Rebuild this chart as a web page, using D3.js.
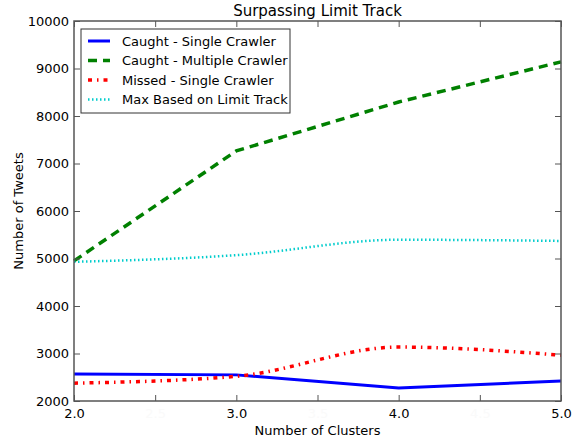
<!DOCTYPE html>
<html>
<head>
<meta charset="utf-8">
<script src="https://cdn.jsdelivr.net/npm/d3@7"></script>
<style>
  body { margin: 0; background: #fff; }
  svg { font-family: "DejaVu Sans", sans-serif; }
</style>
</head>
<body>
<div id="chart"></div>
<script>
// data
var clusters = [2, 3, 4, 5];
var caughtSingle = [2568, 2550, 2272, 2420];
var caughtMultiple = [4950, 7265, 8295, 9140];
var missedSingle = [2375, 2520, 3135, 2965];
var maxLimitTrack = [4930, 5070, 5395, 5370];
var seriesNames = ["Caught - Single Crawler", "Caught - Multiple Crawler",
                   "Missed - Single Crawler", "Max Based on Limit Track"];
var xTicks = [2.0, 2.5, 3.0, 3.5, 4.0, 4.5, 5.0];
var yTicks = [2000, 3000, 4000, 5000, 6000, 7000, 8000, 9000, 10000];

var margin = {top: 21, right: 14, bottom: 37, left: 74},
    width = 575 - margin.left - margin.right,
    height = 438 - margin.top - margin.bottom;

var x = d3.scaleLinear().domain([2, 5]).range([0, width]);
var y = d3.scaleLinear().domain([2000, 10000]).range([height, 0]);

var svg = d3.select("#chart").append("svg")
    .attr("width", 575)
    .attr("height", 438)
  .append("g")
    .attr("transform", `translate(${margin.left},${margin.top})`);

var series = [
  {name: seriesNames[0], values: caughtSingle, color: "#0000ff", width: 3, dash: null, curve: d3.curveLinear},
  {name: seriesNames[1], values: caughtMultiple, color: "#008000", width: 3.5, dash: "9,6", curve: d3.curveLinear},
  {name: seriesNames[2], values: missedSingle, color: "#ff0000", width: 3.5, dash: "4,5,1.5,5", curve: d3.curveMonotoneX},
  {name: seriesNames[3], values: maxLimitTrack, color: "#00cccc", width: 2.5, dash: "1.5,2.5", curve: d3.curveMonotoneX}
];

// lines
series.forEach(function(s) {
  var line = d3.line()
      .x(function(d, i) { return x(clusters[i]); })
      .y(function(d) { return y(d); })
      .curve(s.curve);
  svg.append("path")
      .datum(s.values)
      .attr("fill", "none")
      .attr("stroke", s.color)
      .attr("stroke-width", s.width)
      .attr("stroke-dasharray", s.dash)
      .attr("d", line);
});

// frame
svg.append("rect")
    .attr("width", width)
    .attr("height", height)
    .attr("fill", "none")
    .attr("stroke", "#555")
    .attr("stroke-width", 1.5);

// axes with inward ticks
var bottom = svg.append("g")
    .attr("transform", "translate(0," + height + ")")
    .call(d3.axisBottom(x).tickValues(xTicks).tickFormat(d3.format(".1f")).tickSize(-6).tickPadding(8));

svg.append("g")
    .call(d3.axisTop(x).tickValues(xTicks).tickFormat("").tickSize(-6));

svg.append("g")
    .call(d3.axisLeft(y).tickValues(yTicks).tickFormat(d3.format("d")).tickSize(-6).tickPadding(5));

svg.append("g")
    .attr("transform", "translate(" + width + ",0)")
    .call(d3.axisRight(y).tickValues(yTicks).tickFormat("").tickSize(-6));

svg.selectAll(".domain").remove();
svg.selectAll(".tick line").attr("stroke", "#555");
svg.selectAll(".tick text").style("font-size", "13px").style("font-family", "DejaVu Sans");
// half-step labels are barely visible in the original
bottom.selectAll(".tick text")
    .attr("fill", function(d) { return d % 1 === 0 ? "#000" : "#fafafa"; });

// axis labels
svg.append("text")
    .attr("x", width / 2)
    .attr("y", height + 34)
    .attr("text-anchor", "middle")
    .style("font-size", "13px")
    .text("Number of Clusters");

svg.append("text")
    .attr("transform", "rotate(-90)")
    .attr("x", -height / 2)
    .attr("y", -51)
    .attr("text-anchor", "middle")
    .style("font-size", "13px")
    .text("Number of Tweets");

// title
svg.append("text")
    .attr("x", width / 2)
    .attr("y", -5)
    .attr("text-anchor", "middle")
    .style("font-size", "15px")
    .text("Surpassing Limit Track");

// legend
var legend = svg.append("g")
    .attr("transform", "translate(7,8)");

legend.append("rect")
    .attr("width", 209)
    .attr("height", 84)
    .attr("fill", "#fff")
    .attr("stroke", "#333")
    .attr("stroke-width", 1);

var item = legend.selectAll("g")
    .data(series)
    .enter().append("g")
      .attr("transform", function(d, i) { return "translate(0," + (12 + i * 19.5) + ")"; });

item.append("line")
    .attr("x1", 7)
    .attr("x2", 29)
    .attr("stroke", function(d) { return d.color; })
    .attr("stroke-width", function(d) { return d.width; })
    .attr("stroke-dasharray", function(d) { return d.dash; });

item.append("text")
    .attr("x", 41)
    .attr("dy", "0.35em")
    .style("font-size", "13px")
    .text(function(d) { return d.name; });
</script>
</body>
</html>
